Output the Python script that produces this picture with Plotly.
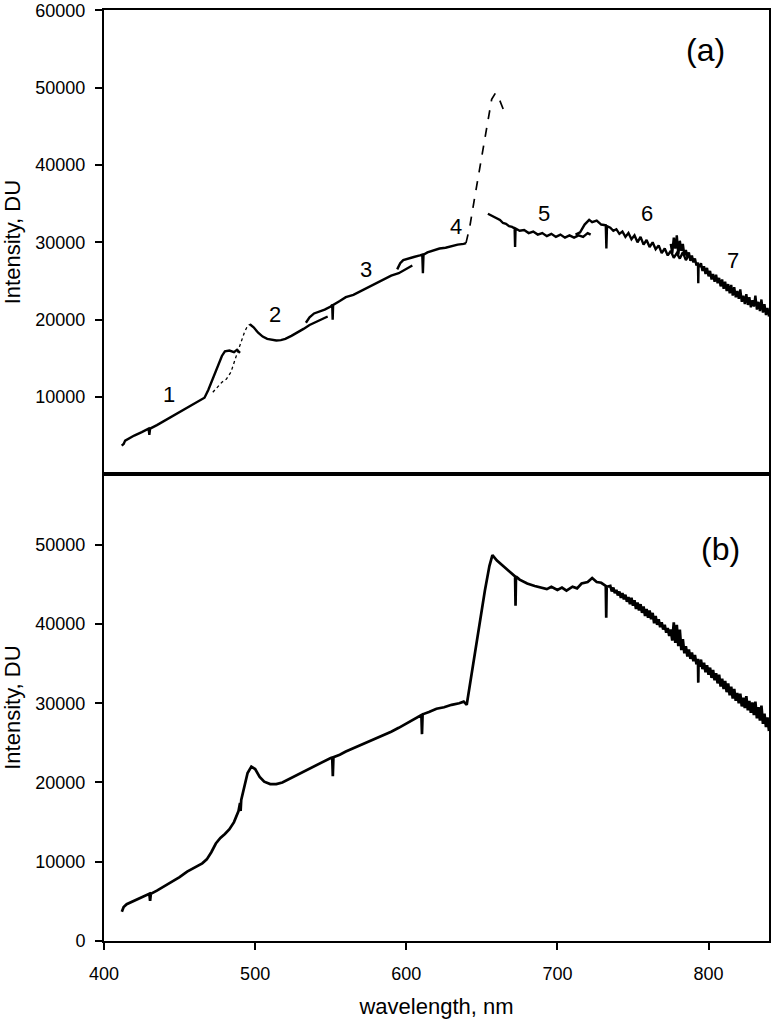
import plotly.graph_objects as go

# ---------------- Panel (a): seven overlapping spectral segments ----------------
a1_nm = [411.7, 413, 414, 416, 420, 425, 429.5, 430, 430.5, 435, 440, 445, 450, 455, 460, 464,
         466.5, 469, 472, 475, 478, 480, 483, 486, 488, 490]
a1_du = [3700, 3900, 4350, 4600, 5000, 5450, 5900, 5100, 5900, 6350, 6900, 7450, 8000, 8550, 9100, 9550,
         9900, 10900, 12400, 14000, 15300, 15900, 16000, 15800, 16100, 15700]

a2d_nm = [472, 475, 478, 481, 484, 487, 489, 491, 493, 495, 496.5]
a2d_du = [10600, 11300, 11900, 12300, 13200, 15000, 16200, 17300, 18400, 19200, 19400]
a2_nm = [496.5, 499, 502, 505, 508, 511, 514, 517, 520, 524, 528, 532, 536, 540, 544, 548]
a2_du = [19400, 19000, 18300, 17800, 17500, 17350, 17300, 17350, 17500, 17900, 18300, 18800, 19300, 19700, 20100, 20400]

a3_nm = [533.6, 536, 539, 542, 546, 550, 551, 551.3, 551.6, 556, 560, 565, 570, 575, 580, 585, 590, 595, 600, 604]
a3_du = [19600, 20300, 20800, 21000, 21300, 21700, 21900, 20000, 21900, 22400, 22900, 23200, 23700, 24200,
         24700, 25200, 25700, 26000, 26500, 27000]

a4_nm = [594, 596, 598, 601, 605, 609, 610.6, 611, 611.4, 614, 618, 622, 626, 630, 634, 638, 639.5]
a4_du = [26500, 27300, 27700, 27900, 28100, 28300, 28400, 26000, 28400, 28700, 29000, 29200, 29300, 29500,
         29700, 29800, 29900]
a4d_nm = [639.5, 642, 645, 648, 651, 654, 656.5, 659, 662, 665]
a4d_du = [29900, 32000, 35500, 39000, 42500, 45600, 48500, 49300, 48300, 46800]

a5_nm = [654, 656, 658, 660, 662, 664, 666, 668, 670, 671.7, 672, 672.3, 675, 678, 681, 684, 687, 690, 693,
         696, 699, 702, 705, 708, 711, 714, 717, 720, 722]
a5_du = [33700, 33500, 33300, 33000, 32900, 32500, 32400, 32100, 32000, 31800, 29400, 31800, 31500, 31600,
         31200, 31400, 31000, 31200, 30800, 31100, 30700, 31000, 30600, 30900, 30600, 30900, 30700, 31200, 31000]

a6_nm = [712, 715, 718, 721, 723, 726, 729, 732, 732.4, 732.8, 735, 737, 739, 741, 743, 745, 747, 749, 751,
         753, 755, 757, 759, 761, 763, 765, 767, 769, 771, 773, 775, 777, 779, 781, 783, 785, 787]
a6_du = [31000, 31300, 32300, 32900, 32600, 32800, 32300, 32200, 29200, 32100, 31900, 31500, 31700, 31100,
         31400, 30700, 31200, 30400, 30900, 30000, 30700, 29700, 30300, 29400, 30000, 29100, 29600, 28600,
         29200, 28300, 28900, 28000, 28600, 27900, 28700, 27700, 28300]

a7_nm = [775, 776, 777, 778, 779, 780, 781, 782, 783, 784, 785, 786, 787, 788, 789, 790, 791, 792, 793,
         793.2, 793.4, 794, 795, 796, 797, 798, 799, 800, 801, 802, 803, 804, 805, 806, 807, 808, 809, 810,
         811, 812, 813, 814, 815, 816, 817, 818, 819, 820, 821, 822, 823, 824, 825, 826, 827, 828, 829, 830,
         831, 832, 833, 834, 835, 836, 837, 838, 839, 840]
a7_du = [29800, 28600, 30600, 29200, 30900, 28400, 30200, 28900, 29800, 28300, 29000, 28100, 28700, 27600,
         28300, 27400, 27900, 27000, 27400, 24700, 27200, 26800, 27300, 26300, 26900, 25900, 26700, 25600,
         26300, 25200, 25900, 24900, 25800, 24700, 25400, 24300, 25200, 24000, 24900, 23700, 24600, 23400,
         24500, 23100, 24200, 22900, 23700, 22700, 23900, 22300, 23100, 22000, 23300, 21900, 22900, 21600,
         22500, 21700, 23100, 21300, 22300, 21100, 22600, 20900, 22000, 20600, 21500, 20400]

seg_labels = ["1", "2", "3", "4", "5", "6", "7"]
seg_label_nm = [443, 513, 573.5, 632.8, 690.9, 759.1, 816.3]
seg_label_du = [10300, 20700, 26500, 32000, 33700, 33700, 27700]

# ---------------- Panel (b): stitched spectrum ----------------
b_nm = [411.8, 413, 415, 420, 425, 430, 430.5, 431, 435, 440, 445, 450, 455, 460, 465, 468, 471, 474, 477,
        480, 483, 486, 489, 490, 490.4, 490.8, 493, 495, 497.5, 500, 503, 506, 510, 514, 518, 522, 526, 530,
        535, 540, 545, 550, 551, 551.4, 551.8, 556, 560, 565, 570, 575, 580, 585, 590, 595, 600, 605, 610,
        610.4, 610.8, 615, 620, 625, 630, 635, 638, 640, 643, 646, 649, 652, 655, 657, 660, 663, 666, 669,
        672, 672.3, 672.6, 675, 680, 685, 690, 693, 696, 700, 703, 706, 710, 713, 716, 720, 723, 726, 729,
        732, 732.3, 732.6,
        735, 736, 737, 738, 739, 740, 741, 742, 743, 744, 745, 746, 747, 748, 749, 750, 751, 752, 753, 754,
        755, 756, 757, 758, 759, 760, 761, 762, 763, 764, 765, 766, 767, 768, 769, 770, 771, 772, 773, 774,
        775, 776, 777, 778, 779, 780, 781, 782, 783, 784, 785, 786, 787, 788, 789, 790, 791, 792, 793, 793.2,
        793.4, 794, 795, 796, 797, 798, 799, 800, 801, 802, 803, 804, 805, 806, 807, 808, 809, 810, 811, 812,
        813, 814, 815, 816, 817, 818, 819, 820, 821, 822, 823, 824, 825, 826, 827, 828, 829, 830, 831, 832,
        833, 834, 835, 836, 837, 838, 839, 840]
b_du = [3700, 4300, 4650, 5050, 5500, 5950, 5050, 5950, 6350, 6900, 7450, 8050, 8750, 9300, 9800, 10300,
        11200, 12300, 13000, 13500, 14100, 15000, 16400, 17400, 16400, 17800, 19500, 21200, 22000, 21700,
        20700, 20100, 19800, 19800, 20000, 20400, 20800, 21100, 21600, 22100, 22600, 23100, 23150, 20800,
        23200, 23500, 23900, 24300, 24800, 25200, 25600, 26000, 26400, 26900, 27400, 28000, 28500, 26100,
        28600, 28900, 29300, 29500, 29800, 30000, 30200, 29800, 33500, 37000, 40800, 44200, 47300, 48700,
        48000, 47500, 47000, 46400, 46000, 42300, 46000, 45600, 45100, 44800, 44600, 44400, 44700, 44300,
        44600, 44200, 44700, 44500, 45100, 45300, 45800, 45300, 45200, 44800, 40800, 44700,
        44800, 44100, 44600, 43900, 44300, 43600, 44100, 43300, 43900, 43100, 43700, 42800, 43400, 42500,
        43300, 42300, 43000, 41900, 42700, 41700, 42500, 41400, 42200, 41000, 41900, 40800, 41700, 40600,
        41400, 40100, 41000, 39900, 40600, 39600, 40200, 39300, 39900, 38900, 39500, 38500, 39300, 37900,
        40200, 37600, 39900, 37200, 39300, 36700, 38100, 36300, 37200, 35900, 36800, 35600, 36400, 35300,
        36100, 34900, 35600, 32600, 35400, 34600, 35500, 34300, 35100, 33900, 34800, 33600, 34500, 33200,
        34200, 32900, 33800, 32500, 33600, 32100, 33100, 31800, 32800, 31400, 32500, 31000, 32100, 30600,
        31800, 30300, 31300, 30000, 31200, 29600, 30700, 29400, 30900, 29100, 30300, 28800, 30100, 28500,
        30200, 28100, 29500, 27800, 29700, 27400, 28700, 27000, 28200, 26500]

x_ticks = [400, 500, 600, 700, 800]
ya_ticks = [10000, 20000, 30000, 40000, 50000, 60000]
yb_ticks = [0, 10000, 20000, 30000, 40000, 50000]

FONT = "Liberation Sans, Arial, Helvetica, sans-serif"
BLK = "black"

fig = go.Figure()


def add_line(x, y, xa, ya, width, dash="solid"):
    fig.add_trace(go.Scatter(x=x, y=y, mode="lines", xaxis=xa, yaxis=ya,
                             line=dict(color=BLK, width=width, dash=dash),
                             showlegend=False, hoverinfo="skip"))


for xs, ys in [(a1_nm, a1_du), (a2_nm, a2_du), (a3_nm, a3_du), (a4_nm, a4_du),
               (a5_nm, a5_du), (a6_nm, a6_du), (a7_nm, a7_du)]:
    add_line(xs, ys, "x", "y", 2.4)
add_line(a2d_nm, a2d_du, "x", "y", 1.3, "dot")
add_line(a4d_nm, a4d_du, "x", "y", 1.7, "dash")
add_line(b_nm, b_du, "x2", "y2", 2.7)

for t, xv, yv in zip(seg_labels, seg_label_nm, seg_label_du):
    fig.add_annotation(x=xv, y=yv, xref="x", yref="y", text=t, showarrow=False,
                       font=dict(family=FONT, size=22, color=BLK))
fig.add_annotation(x=798.2, y=54850, xref="x", yref="y", text="(a)", showarrow=False,
                   font=dict(family=FONT, size=32, color=BLK))
fig.add_annotation(x=808, y=49500, xref="x2", yref="y2", text="(b)", showarrow=False,
                   font=dict(family=FONT, size=32, color=BLK))

split = 0.5014
axis_common = dict(showline=True, linecolor=BLK, linewidth=2, mirror=True, showgrid=False,
                   zeroline=False, tickcolor=BLK, tickwidth=1.5, ticklen=7, tickformat="d",
                   ticklabeloverflow="allow",
                   tickfont=dict(family=FONT, size=18, color=BLK))

fig.update_layout(
    width=772, height=1019,
    margin=dict(l=104, r=1, t=7, b=78),
    paper_bgcolor="white", plot_bgcolor="white",
    font=dict(family=FONT, color=BLK),
    xaxis=dict(domain=[0, 1], anchor="y", range=[400, 840], showticklabels=False, ticks="",
               showline=True, linecolor=BLK, linewidth=2, mirror=True, showgrid=False, zeroline=False),
    yaxis=dict(domain=[split, 1], anchor="x", range=[0, 60060], tickvals=ya_ticks, ticks="outside",
               ticklabelstandoff=6,
               title=dict(text="Intensity, DU", font=dict(family=FONT, size=22, color=BLK), standoff=9),
               **axis_common),
    xaxis2=dict(domain=[0, 1], anchor="y2", range=[400, 840], tickvals=x_ticks, ticks="outside",
                ticklabelstandoff=8,
                title=dict(text="wavelength, nm", font=dict(family=FONT, size=22, color=BLK), standoff=18),
                **axis_common),
    yaxis2=dict(domain=[0, split], anchor="x2", range=[0, 58900], tickvals=yb_ticks, ticks="outside",
                ticklabelstandoff=6,
                title=dict(text="Intensity, DU", font=dict(family=FONT, size=22, color=BLK), standoff=9),
                **axis_common),
)

fig.write_html("out.html", config={"displayModeBar": False},
               post_script="document.body.style.margin='0';document.body.style.overflow='hidden';")
